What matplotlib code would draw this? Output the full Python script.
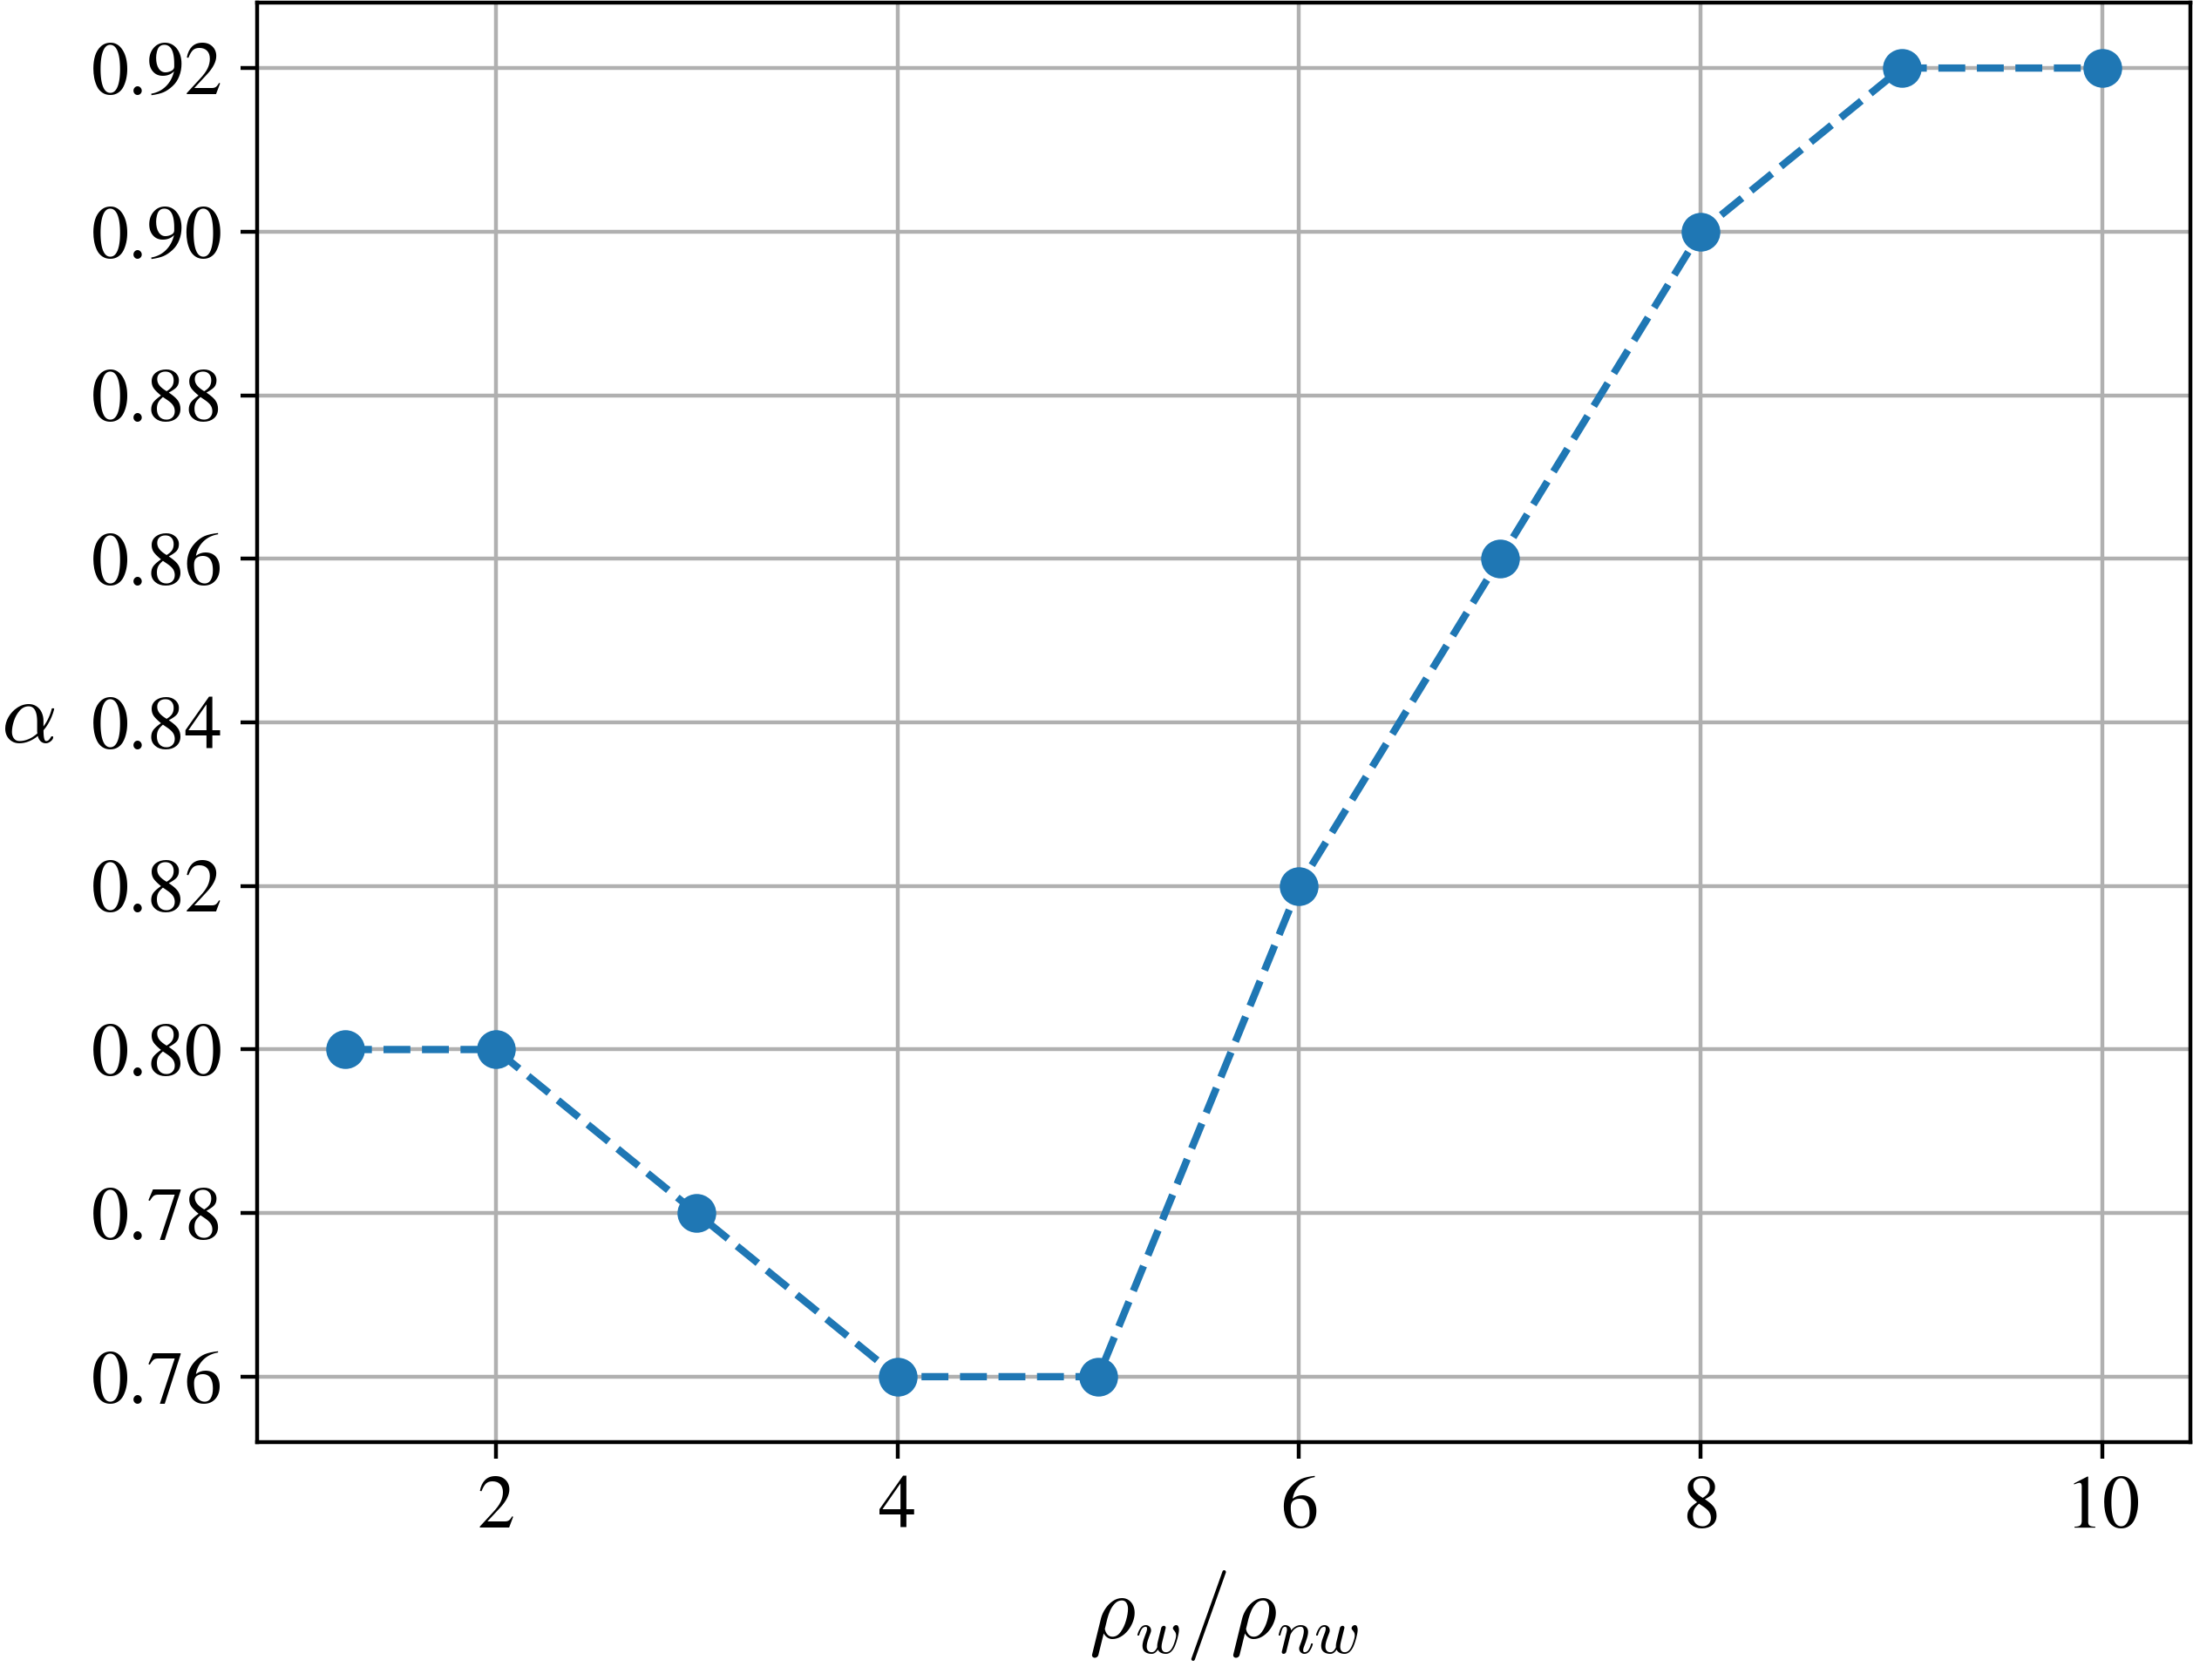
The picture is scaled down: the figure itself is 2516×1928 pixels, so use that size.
import matplotlib as mpl
mpl.use("Agg")
import matplotlib.pyplot as plt

mpl.rcParams["font.family"] = "STIXGeneral"
mpl.rcParams["mathtext.fontset"] = "cm"
mpl.rcParams["font.size"] = 15.5

# density ratio vs alpha
ratio = [1.25, 2, 3, 4, 5, 6, 7, 8, 9, 10]
alpha = [0.80, 0.80, 0.78, 0.76, 0.76, 0.82, 0.86, 0.90, 0.92, 0.92]

fig = plt.figure(figsize=(2516/400, 1928/400))
ax = fig.add_axes([295/2516, 1 - 1655/1928, (2513-295)/2516, (1655-3)/1928])

ax.plot(ratio, alpha, 'o--', color='#1f77b4', markersize=7)
ax.set_xticks([2, 4, 6, 8, 10])
ax.set_yticks([0.76, 0.78, 0.80, 0.82, 0.84, 0.86, 0.88, 0.90, 0.92])
ax.grid(True)

ax.set_xlabel(r'$\rho_w/\rho_{nw}$', fontsize=18.5, labelpad=5)
ax.set_ylabel(r'$\alpha$', rotation=0, fontsize=18, ha='right', va='center', labelpad=7.5)

fig.savefig("out.png", dpi=400)
